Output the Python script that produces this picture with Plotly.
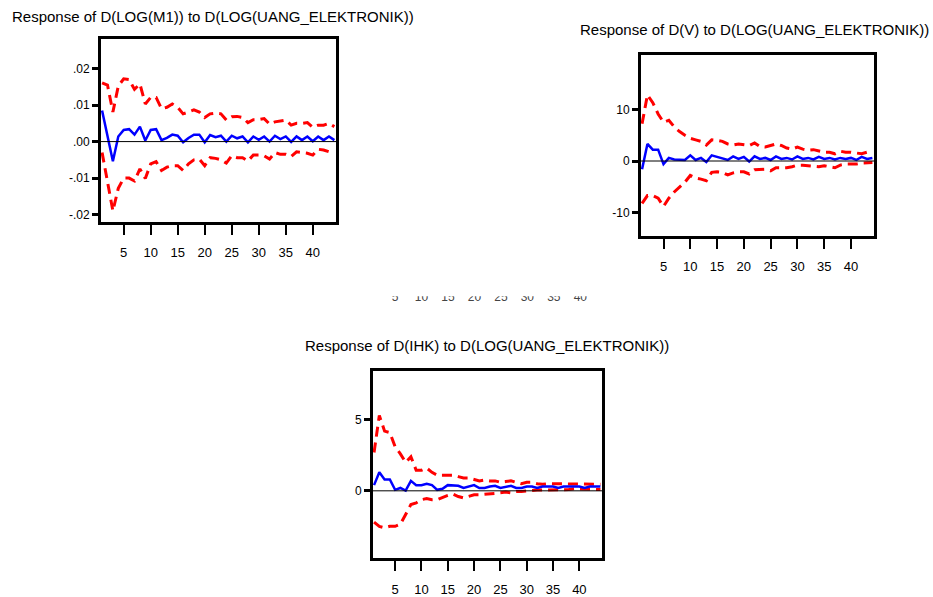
import plotly.graph_objects as go

W, H = 933, 597

periods = list(range(1, 45))

# Panel 1: Response of D(LOG(M1))
m1_resp = [0.0085, 0.0015, -0.0054, 0.0014, 0.0032, 0.0034, 0.0019, 0.0041, 0.0003, 0.0032,
           0.0034, 0.0004, 0.0010, 0.0019, 0.0016, -0.0002, 0.0010, 0.0019, 0.0019, -0.0002,
           0.0018, 0.0012, 0.0016, 0.0000, 0.0016, 0.0009, 0.0014, -0.0002, 0.0014, 0.0005,
           0.0014, 0.0000, 0.0016, 0.0007, 0.0014, -0.0001, 0.0014, 0.0004, 0.0014, 0.0001,
           0.0014, 0.0004, 0.0014, 0.0004]
m1_upper = [0.0161, 0.0155, 0.0081, 0.0152, 0.0172, 0.0170, 0.0143, 0.0158, 0.0103, 0.0121,
            0.0121, 0.0090, 0.0094, 0.0103, 0.0094, 0.0076, 0.0081, 0.0087, 0.0081, 0.0066,
            0.0076, 0.0078, 0.0076, 0.0059, 0.0068, 0.0069, 0.0066, 0.0052, 0.0060, 0.0060,
            0.0063, 0.0048, 0.0054, 0.0057, 0.0059, 0.0045, 0.0050, 0.0050, 0.0052, 0.0039,
            0.0045, 0.0045, 0.0050, 0.0041]
m1_lower = [-0.0030, -0.0110, -0.0190, -0.0128, -0.0100, -0.0100, -0.0108, -0.0075, -0.0101, -0.0061,
            -0.0055, -0.0079, -0.0070, -0.0066, -0.0066, -0.0079, -0.0061, -0.0050, -0.0048, -0.0066,
            -0.0044, -0.0046, -0.0050, -0.0059, -0.0039, -0.0044, -0.0044, -0.0053, -0.0037, -0.0037,
            -0.0039, -0.0048, -0.0030, -0.0035, -0.0035, -0.0041, -0.0028, -0.0030, -0.0032, -0.0037,
            -0.0021, -0.0023, -0.0028, -0.0030]

# Panel 2: Response of D(V)
v_resp = [-1.6, 3.3, 2.2, 2.2, -0.6, 0.6, 0.3, 0.2, 0.2, 1.1,
          0.2, 0.6, -0.2, 1.1, 0.8, 0.6, 0.2, 0.9, 0.4, 0.8,
          -0.1, 0.9, 0.4, 0.6, 0.2, 0.9, 0.4, 0.6, 0.3, 0.9,
          0.4, 0.6, 0.3, 0.8, 0.4, 0.6, 0.3, 0.6, 0.4, 0.6,
          0.2, 0.8, 0.4, 0.6]
v_upper = [7.2, 12.8, 11.3, 9.1, 7.5, 7.9, 6.6, 5.7, 5.0, 4.4,
           4.1, 3.8, 3.1, 4.1, 4.0, 3.8, 3.3, 3.1, 3.3, 3.1,
           3.0, 3.5, 2.8, 2.7, 3.0, 3.3, 3.0, 2.5, 2.3, 2.7,
           2.3, 2.1, 2.2, 1.9, 1.7, 1.7, 1.4, 1.9, 1.7, 1.7,
           1.6, 1.4, 1.7, 1.6]
v_lower = [-8.2, -6.7, -6.7, -7.2, -8.8, -7.2, -6.0, -5.0, -4.1, -2.8,
           -3.3, -3.5, -3.8, -2.2, -2.1, -2.2, -2.7, -2.3, -2.1, -2.1,
           -2.5, -1.7, -1.6, -1.6, -1.9, -1.3, -1.3, -1.3, -1.1, -0.8,
           -0.8, -0.9, -1.1, -1.1, -0.9, -1.1, -1.3, -0.8, -0.6, -0.6,
           -0.6, -0.4, -0.4, -0.3]

# Panel 3: Response of D(IHK)
ihk_resp = [0.4, 1.3, 0.8, 0.8, 0.07, 0.2, 0.02, 0.7, 0.4, 0.4,
            0.5, 0.4, 0.07, 0.14, 0.4, 0.4, 0.35, 0.2, 0.3, 0.4,
            0.2, 0.2, 0.3, 0.35, 0.2, 0.3, 0.35, 0.2, 0.2, 0.3,
            0.3, 0.2, 0.3, 0.3, 0.3, 0.2, 0.3, 0.3, 0.3, 0.3,
            0.2, 0.3, 0.3, 0.3]
ihk_upper = [2.7, 5.3, 4.2, 4.1, 3.1, 2.6, 2.0, 2.4, 1.45, 1.45,
             1.6, 1.3, 1.1, 1.1, 1.05, 1.1, 1.0, 0.9, 0.9, 0.8,
             0.7, 0.76, 0.7, 0.7, 0.6, 0.65, 0.7, 0.6, 0.5, 0.6,
             0.6, 0.5, 0.46, 0.5, 0.5, 0.46, 0.46, 0.5, 0.5, 0.46,
             0.46, 0.46, 0.46, 0.46]
ihk_lower = [-2.2, -2.5, -2.6, -2.5, -2.5, -2.35, -1.66, -0.97, -0.85, -0.62,
             -0.55, -0.62, -0.62, -0.46, -0.32, -0.23, -0.4, -0.5, -0.4, -0.28,
             -0.28, -0.23, -0.18, -0.18, -0.14, -0.09, -0.14, -0.05, -0.05, 0.0,
             0.05, 0.05, 0.05, 0.05, 0.09, 0.09, 0.09, 0.09, 0.14, 0.14,
             0.09, 0.14, 0.09, 0.09]

titles = ["Response of D(LOG(M1)) to D(LOG(UANG_ELEKTRONIK))",
          "Response of D(V) to D(LOG(UANG_ELEKTRONIK))",
          "Response of D(IHK) to D(LOG(UANG_ELEKTRONIK))"]

x_tickvals = [5, 10, 15, 20, 25, 30, 35, 40]
x_ticktext = ["5", "10", "15", "20", "25", "30", "35", "40"]
m1_tickvals = [0.02, 0.01, 0.0, -0.01, -0.02]
m1_ticktext = [".02", ".01", ".00", "-.01", "-.02"]
v_tickvals = [10, 0, -10]
v_ticktext = ["10", "0", "-10"]
ihk_tickvals = [5, 0]
ihk_ticktext = ["5", "0"]

FONT = "Liberation Sans"


def px_x(a, b):
    return [a / W, b / W]


def px_y(top, bottom):
    return [1 - bottom / H, 1 - top / H]


fig = go.Figure()

panels = [
    (m1_resp, m1_upper, m1_lower, "", ""),
    (v_resp, v_upper, v_lower, "2", "2"),
    (ihk_resp, ihk_upper, ihk_lower, "3", "3"),
]
for resp, up, lo, xs, ys in panels:
    for band in (up, lo):
        fig.add_trace(go.Scatter(x=periods, y=band, mode="lines",
                                 line=dict(color="#ff0000", width=3, dash="10px,6px"),
                                 xaxis="x" + xs, yaxis="y" + ys, showlegend=False,
                                 hoverinfo="skip"))
    fig.add_trace(go.Scatter(x=periods, y=resp, mode="lines",
                             line=dict(color="#0000ff", width=2.5),
                             xaxis="x" + xs, yaxis="y" + ys, showlegend=False))

# hidden, mostly covered axis row (stray tick labels)
fig.add_trace(go.Scatter(x=[1, 44], y=[0, 1], mode="lines", line=dict(width=0),
                         xaxis="x4", yaxis="y4", showlegend=False, hoverinfo="skip"))

common_x = dict(showline=True, linewidth=3, linecolor="black", mirror=True,
                ticks="outside", ticklen=10, tickwidth=2, tickcolor="black",
                ticklabelstandoff=6,
                showgrid=False, zeroline=False, tickvals=x_tickvals, ticktext=x_ticktext,
                tickfont=dict(family=FONT, size=13, color="black"), range=[0.8, 44.3])
common_y = dict(showline=True, linewidth=3, linecolor="black", mirror=True,
                ticks="outside", ticklen=6, tickwidth=2.5, tickcolor="black",
                showgrid=False, zeroline=False,
                tickfont=dict(family=FONT, size=12, color="black"))

fig.update_layout(
    width=W, height=H, margin=dict(l=0, r=0, t=0, b=0),
    paper_bgcolor="white", plot_bgcolor="white",
    xaxis=dict(common_x, domain=px_x(101, 336), anchor="y"),
    yaxis=dict(common_y, domain=px_y(40, 228), anchor="x", range=[-0.0221, 0.0281],
               tickvals=m1_tickvals, ticktext=m1_ticktext),
    xaxis2=dict(common_x, domain=px_x(641, 874), anchor="y2"),
    yaxis2=dict(common_y, domain=px_y(56, 242), anchor="x2", range=[-14.5, 20.6],
                tickvals=v_tickvals, ticktext=v_ticktext),
    xaxis3=dict(common_x, domain=px_x(373, 602), anchor="y3", ticklabelstandoff=8),
    yaxis3=dict(common_y, domain=px_y(381, 572), anchor="x3", range=[-4.7, 8.4],
                tickvals=ihk_tickvals, ticktext=ihk_ticktext),
    xaxis4=dict(domain=px_x(373, 602), anchor="y4", range=[0.84, 44.1],
                showline=False, ticks="", showgrid=False, zeroline=False,
                tickvals=x_tickvals, ticktext=x_ticktext,
                tickfont=dict(family=FONT, size=12, color="#444")),
    yaxis4=dict(domain=px_y(282, 295), anchor="x4", visible=False),
)

# zero lines
for xs, ys in (("x", "y"), ("x2", "y2"), ("x3", "y3")):
    fig.add_shape(type="line", xref=xs + " domain", yref=ys, x0=0, x1=1, y0=0, y1=0,
                  line=dict(color="black", width=1))

# white cover over the stray tick labels (only bottoms show)
fig.add_shape(type="rect", xref="paper", yref="paper", x0=360 / W, x1=620 / W,
              y0=1 - 304 / H, y1=1 - 275 / H, fillcolor="white", line=dict(width=0),
              layer="above")

title_pos = [(10, 17), (578, 30), (303, 354)]
for t, (x, y) in zip(titles, title_pos):
    fig.add_annotation(text=t, x=x / W, y=1 - y / H, xref="paper", yref="paper",
                       xanchor="left", yanchor="middle", showarrow=False,
                       font=dict(family=FONT, size=15, color="black"))

fig.write_html("out.html")
